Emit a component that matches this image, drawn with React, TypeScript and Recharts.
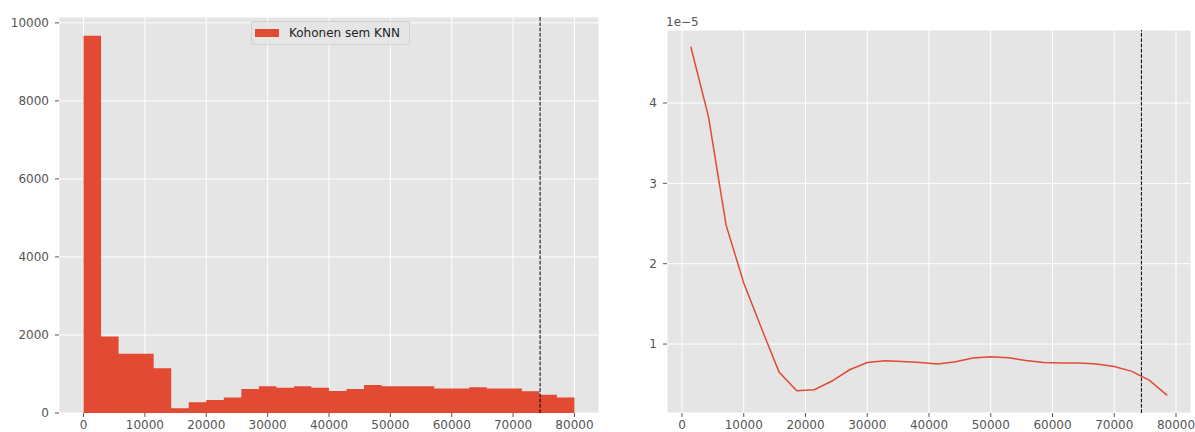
import {
  ComposedChart, LineChart, Area, Line, XAxis, YAxis, CartesianGrid, ReferenceLine, Legend,
} from 'recharts';

// histogram bins (28 bins, edges)
const binEdges = [
  0, 2857, 5714, 8571, 11429, 14286, 17143, 20000, 22857, 25714, 28571, 31429, 34286, 37143, 40000,
  42857, 45714, 48571, 51429, 54286, 57143, 60000, 62857, 65714, 68571, 71429, 74286, 77143, 80000,
];
const binCounts = [
  9670, 1960, 1520, 1520, 1150, 120, 275, 335, 395, 615, 685, 650, 685, 650,
  565, 615, 715, 685, 685, 685, 625, 625, 660, 625, 625, 555, 470, 400,
];

// density curve at bin centers (units of 1e-5)
const binCenters = [
  1429, 4286, 7143, 10000, 12857, 15714, 18571, 21429, 24286, 27143, 30000, 32857, 35714, 38571,
  41429, 44286, 47143, 50000, 52857, 55714, 58571, 61429, 64286, 67143, 70000, 72857, 75714, 78571,
];
const density = [
  4.70, 3.83, 2.48, 1.76, 1.20, 0.652, 0.419, 0.432, 0.54, 0.68, 0.771, 0.792, 0.784, 0.771,
  0.751, 0.78, 0.826, 0.842, 0.83, 0.796, 0.771, 0.764, 0.764, 0.751, 0.72, 0.66, 0.547, 0.361,
];

const threshold = 74400;
const xTicks = [0, 10000, 20000, 30000, 40000, 50000, 60000, 70000, 80000];
const histYTicks = [0, 2000, 4000, 6000, 8000, 10000];
const densYTicks = [1, 2, 3, 4];
const seriesName = 'Kohonen sem KNN';

const RED = '#E24A33';
const BG = '#E5E5E5';
const tickStyle = { fill: '#555555', fontSize: 12 };

const histData = binEdges.map((x, i) => ({ x, count: binCounts[Math.min(i, binCounts.length - 1)] }));
const densData = binCenters.map((x, i) => ({ x, d: density[i] }));

function HistLegend() {
  return (
    <div
      style={{
        display: 'flex',
        alignItems: 'center',
        background: 'rgba(229,229,229,0.8)',
        border: '1px solid rgba(204,204,204,0.8)',
        borderRadius: 3,
        padding: '4px 9px 4px 3px',
        height: 14,
        fontSize: 12,
        color: '#222',
        whiteSpace: 'nowrap',
      }}
    >
      <span style={{ display: 'inline-block', width: 24, height: 8, background: RED, marginRight: 10 }} />
      <span>{seriesName}</span>
    </div>
  );
}

export default function App() {
  return (
    <div
      style={{
        position: 'absolute', left: 0, top: 0, width: 1195, height: 432,
        background: '#fff', fontFamily: '"DejaVu Sans", sans-serif',
      }}
    >
      <div style={{ position: 'absolute', left: 0, top: 0 }}>
        <ComposedChart width={600} height={432} data={histData} margin={{ top: 17, right: 1, bottom: 0, left: 9 }}>
          <CartesianGrid stroke="#fff" strokeWidth={1} fill={BG} fillOpacity={1} />
          <XAxis
            type="number" dataKey="x" domain={[-4000, 84000]} ticks={xTicks} allowDataOverflow
            height={19} tickSize={4} tickMargin={3} axisLine={false} tickLine={{ stroke: '#555' }} tick={tickStyle}
          />
          <YAxis
            type="number" domain={[0, 10150]} ticks={histYTicks} allowDataOverflow
            width={50} tickSize={4} tickMargin={6} axisLine={false} tickLine={{ stroke: '#555' }} tick={tickStyle}
          />
          <Legend
            verticalAlign="middle" align="center" layout="horizontal"
            wrapperStyle={{ left: 251, top: 21, width: 'auto' }}
            content={() => <HistLegend />}
          />
          <Area
            type="stepAfter" dataKey="count" name={seriesName} stroke="none" fill={RED} fillOpacity={1}
            dot={false} activeDot={false} isAnimationActive={false}
          />
          <ReferenceLine x={threshold} stroke="#000" strokeWidth={1} strokeDasharray="3.7 1.6" />
        </ComposedChart>
      </div>
      <div style={{ position: 'absolute', left: 600, top: 0 }}>
        <LineChart width={595} height={432} data={densData} margin={{ top: 30, right: 4, bottom: 0, left: 27 }}>
          <CartesianGrid stroke="#fff" strokeWidth={1} fill={BG} fillOpacity={1} />
          <XAxis
            type="number" dataKey="x" domain={[-2429, 82429]} ticks={xTicks} allowDataOverflow
            height={19} tickSize={4} tickMargin={3} axisLine={false} tickLine={{ stroke: '#555' }} tick={tickStyle}
          />
          <YAxis
            type="number" domain={[0.142, 4.908]} ticks={densYTicks} allowDataOverflow
            width={40} tickSize={4} tickMargin={6} axisLine={false} tickLine={{ stroke: '#555' }} tick={tickStyle}
          />
          <Line
            type="linear" dataKey="d" stroke={RED} strokeWidth={1.5} dot={false} activeDot={false}
            isAnimationActive={false}
          />
          <ReferenceLine x={threshold} stroke="#000" strokeWidth={1} strokeDasharray="3.7 1.6" />
        </LineChart>
      </div>
      <div style={{ position: 'absolute', left: 666, top: 15, fontSize: 12, color: '#555', lineHeight: '14px' }}>
        1e−5
      </div>
    </div>
  );
}
